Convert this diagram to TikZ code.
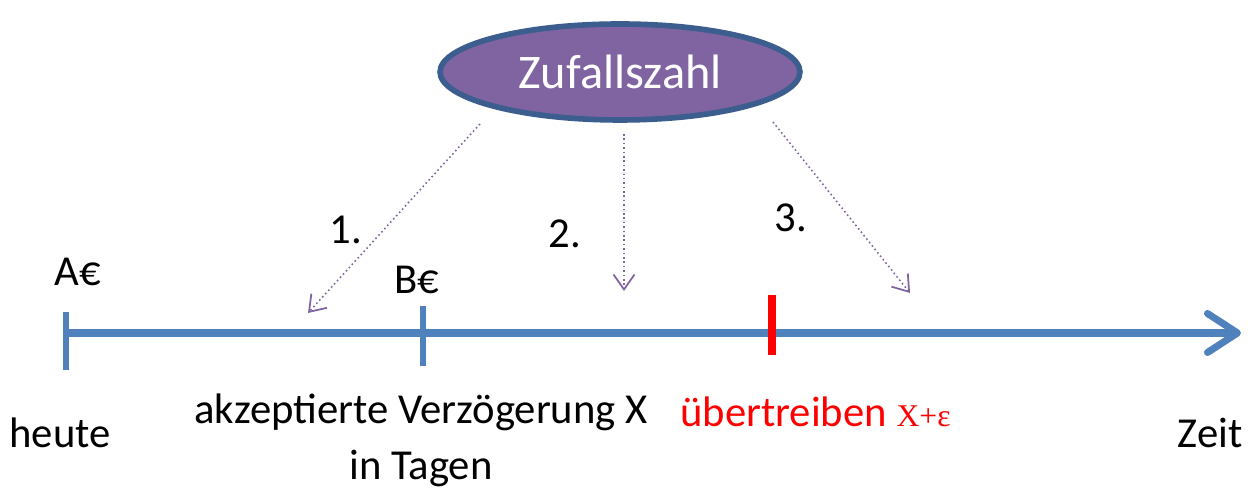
\documentclass[tikz,border=0pt]{standalone}
\usepackage{fontspec}
\setmainfont{Carlito}
\newfontfamily\timesfont{Liberation Serif}
\usetikzlibrary{arrows.meta,shapes.geometric}
\definecolor{achse}{HTML}{4F81BD}
\definecolor{lila}{HTML}{8064A2}
\definecolor{rand}{HTML}{3B5E8E}

\begin{document}
\begin{tikzpicture}[x=0.02cm, y=0.02cm, every node/.style={font=\fontsize{24.3}{28}\selectfont},
	tick/.style={achse, line width=3.6pt},
	zufallpfeil/.style={lila, line width=0.9pt, dash pattern=on 0.9pt off 1.6pt, -{Straight Barb[length=0.3cm, width=0.42cm, line width=1pt]}}]
	\useasboundingbox (0,0) rectangle (1248,489);

	\node[ellipse, draw=rand, line width=3.2pt, fill=lila, minimum width=7.2cm, minimum height=1.92cm, inner sep=0pt, text=white, font=\fontsize{27.5}{32}\selectfont](Z) at (620,417){Zufallszahl};

	\coordinate (T0) at (66,156);
	\coordinate (TE) at (1241,156);
	\draw[achse, line width=4pt, -{Straight Barb[length=0.6cm, width=0.78cm, line cap=round, round]}] (T0) -- (TE);

	\draw[tick] (66,177) -- (66,119);
	\draw[tick] (423,183) -- (423,123);
	\draw[red, line width=4pt] (772,194) -- (772,134);

	\node(A) at (78,217){A€};
	\node(B) at (417,209){B€};
	\node(H) at (60,56){heute};
	\node(V) at (421,77){akzeptierte Verzögerung X};
	\node(IT) at (421,21){in Tagen};
	\node[anchor=west, text=red](U) at (674,77){übertreiben {\timesfont\fontsize{18}{22}\selectfont X+ε}};
	\node(Zt) at (1210,56){Zeit};

	\node(N1) at (346,259){1.};
	\node(N2) at (565,255){2.};
	\node(N3) at (791,271){3.};

	\coordinate (S1) at (480,365);
	\coordinate (E1) at (308,176);
	\coordinate (S2) at (624,355);
	\coordinate (E2) at (624,198);
	\coordinate (S3) at (773,367);
	\coordinate (E3) at (910,196);

	\draw[zufallpfeil] (S1) -- (E1);
	\draw[zufallpfeil] (S2) -- (E2);
	\draw[zufallpfeil] (S3) -- (E3);
\end{tikzpicture}
\end{document}
